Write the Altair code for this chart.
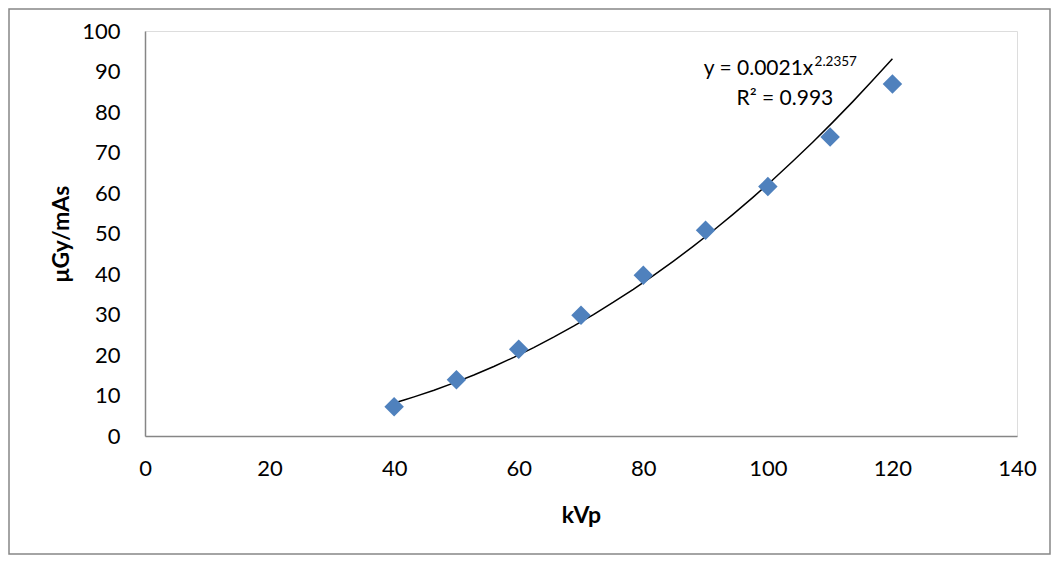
import altair as alt
import pandas as pd

kvp = [40, 50, 60, 70, 80, 90, 100, 110, 120]
dose = [7.2, 13.9, 21.4, 29.8, 39.7, 50.8, 61.6, 73.8, 86.9]
x_ticks = [0, 20, 40, 60, 80, 100, 120, 140]
y_ticks = [0, 10, 20, 30, 40, 50, 60, 70, 80, 90, 100]
eq_main = "y = 0.0021x"
eq_exp = "2.2357"
r2_text = "R² = 0.993"

df = pd.DataFrame({"kvp": kvp, "dose": dose})

FONT = "Lato"
W, H = 872, 405
PL, PT = 137, 23
SVG_W, SVG_H = 1043, 547

xs = alt.Scale(domain=[0, 140], nice=False, zero=True)
ys = alt.Scale(domain=[0, 100], nice=False, zero=True)

x_axis = alt.Axis(values=x_ticks, grid=False, ticks=False, domainColor="#868686",
                  domainWidth=1.5, labelFont=FONT, labelFontSize=22, labelColor="#000000",
                  labelPadding=22, labelFlush=False, title="kVp", titleFont=FONT,
                  titleFontSize=23, titleFontWeight="bold", titleColor="#000000",
                  titleBaseline="alphabetic", titleY=86)
y_axis = alt.Axis(values=y_ticks, grid=False, ticks=False, domainColor="#868686",
                  domainWidth=1.5, labelFont=FONT, labelFontSize=22, labelColor="#000000",
                  labelPadding=25, labelFlush=False, title="μGy/mAs", titleFont=FONT,
                  titleFontSize=23, titleFontWeight="bold", titleColor="#000000",
                  titleBaseline="alphabetic", titleX=-77, titleAngle=-90)

base = alt.Chart(df)

points = base.mark_point(shape="diamond", filled=True, size=380, color="#4F81BD",
                         opacity=1).encode(
    x=alt.X("kvp:Q", scale=xs, axis=x_axis),
    y=alt.Y("dose:Q", scale=ys, axis=y_axis),
)

trend = base.transform_regression("kvp", "dose", method="pow").mark_line(
    color="#000000", strokeWidth=1.5).encode(
    x=alt.X("kvp:Q", scale=xs),
    y=alt.Y("dose:Q", scale=ys),
)

t_main = alt.Chart().mark_text(text=eq_main, font=FONT, fontSize=21, align="right",
                               baseline="alphabetic", color="#000000").encode(
    x=alt.datum(107.3), y=alt.datum(89.1))
t_exp = alt.Chart().mark_text(text=eq_exp, font=FONT, fontSize=13.5, align="left",
                              baseline="alphabetic", color="#000000").encode(
    x=alt.datum(107.5), y=alt.datum(91.3))
t_r2 = alt.Chart().mark_text(text=r2_text, font=FONT, fontSize=21, align="right",
                             baseline="alphabetic", color="#000000").encode(
    x=alt.datum(110.5), y=alt.datum(81.7))

border = alt.Chart().mark_rect(fill=None, stroke="#868686", strokeWidth=1.5).encode(
    x=alt.value(-PL + 1), x2=alt.value(SVG_W - 1 - PL),
    y=alt.value(-PT + 1), y2=alt.value(SVG_H - 1 - PT))

chart = alt.layer(border, trend, points, t_main, t_exp, t_r2).properties(
    width=W, height=H,
    autosize=alt.AutoSizeParams(type="none"),
    padding={"left": PL, "top": PT, "right": SVG_W - PL - W, "bottom": SVG_H - PT - H},
).configure_view(stroke=None).configure(background="#ffffff")

chart.save("out.html", embed_options={"renderer": "svg", "actions": False})
